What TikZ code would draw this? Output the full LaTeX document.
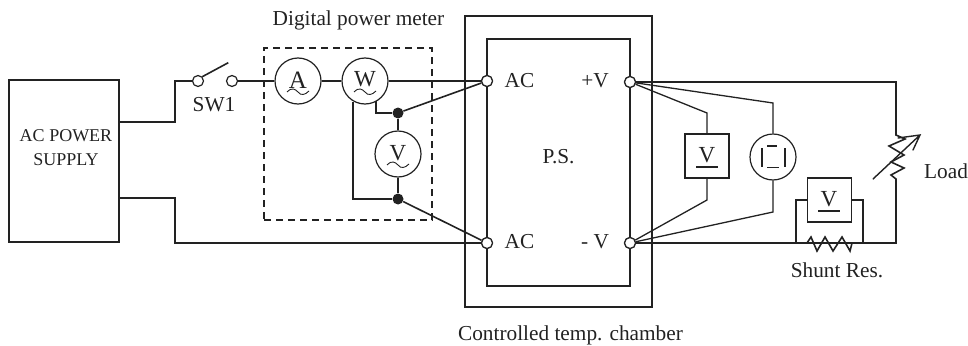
\documentclass[tikz,border=0pt]{standalone}
\usepackage{fontspec}
\setmainfont{Liberation Serif}
\usetikzlibrary{calc,arrows.meta}
\definecolor{ink}{HTML}{222222}
\tikzset{
  wire/.style={draw=ink,line width=1.6pt,line join=miter},
  thinw/.style={draw=ink,line width=1.2pt},
  box/.style={draw=ink,line width=1.4pt,fill=none},
  meter/.style={circle,draw=ink,line width=1.2pt,fill=white,minimum size=46pt,inner sep=0pt},
  vbox/.style={rectangle,draw=ink,line width=1.3pt,fill=white,minimum size=44pt,inner sep=0pt},
  term/.style={circle,draw=ink,line width=1.2pt,fill=white,minimum size=11pt,inner sep=0pt},
  dot/.style={circle,fill=ink,minimum size=11pt,inner sep=0pt},
  lab/.style={text=ink,font=\fontsize{21.3}{24}\selectfont,inner sep=0pt},
  sym/.style={text=ink,font=\fontsize{23}{25}\selectfont,inner sep=0pt},
}
\newcommand{\mywave}[1]{\draw[thinw,line width=.9pt,shift={(#1)}] (-11,11) .. controls (-6,6) and (-3,8) .. (0,11) .. controls (3,15) and (7,14) .. (11,10);}
\begin{document}
\begin{tikzpicture}[x=1pt,y=-1pt]
\useasboundingbox (0,0) rectangle (968,345);
% chamber and supply
\node[box,rectangle,minimum width=110pt,minimum height=162pt,inner sep=0pt] (supply) at (64,161) {};
\node[lab,font=\fontsize{18}{24}\selectfont] (supplytxt) at (66,136) {AC POWER};
\node[lab,font=\fontsize{18}{24}\selectfont] (supplytxt2) at (66,160) {SUPPLY};
\node[box,rectangle,minimum width=187pt,minimum height=291pt,inner sep=0pt] (chamber) at (558.5,161.5) {};
\node[box,rectangle,minimum width=143pt,minimum height=247pt,inner sep=0pt] (ps) at (558.5,162.5) {};
\node[box,rectangle,dash pattern=on 7pt off 5pt,line width=1.5pt,minimum width=168pt,minimum height=172pt,inner sep=0pt] (dpm) at (348,134) {};
% terminals etc
\node[term] (sa) at (198,81) {};
\node[term] (sb) at (232,81) {};
\node[meter] (A) at (298,81) {};
\node[meter] (W) at (365,81) {};
\node[meter] (Vac) at (398,154) {};
\node[dot] (d1) at (398,113) {};
\node[dot] (d2) at (398,199) {};
\node[term] (acp) at (487,81) {};
\node[term] (acn) at (487,243) {};
\node[term] (vp) at (630,82) {};
\node[term] (vn) at (630,243) {};
\node[vbox] (Vdc) at (707,156) {};
\node[meter] (Osc) at (773,157) {};
\node[vbox] (Vsh) at (829.5,200) {};
% left wiring
\coordinate (s1) at (119,122); \coordinate (s2) at (119,198);
\draw[wire] (s1) -- (175,122) -- (175,81) -- (sa);
\draw[wire] (s2) -- (175,198) -- (175,243) -- (acn);
\draw[wire] (sa.north east) -- ++(26,-14);
\draw[wire] (sb) -- (A);
\draw[wire] (A) -- (W);
\draw[wire] (W) -- (acp);
\draw[thinw] (353,102) -- (353,199) -- (d2);
\draw[thinw] (376,101) -- (376,113) -- (d1);
\draw[wire] (d1) -- (Vac);
\draw[wire] (Vac) -- (d2);
\draw[wire] (d1) -- (acp);
\draw[wire] (d2) -- (acn);
% right wiring
\coordinate (lt) at (896,82); \coordinate (lb) at (896,243);
\coordinate (lz1) at (896,135); \coordinate (lz2) at (896,179);
\draw[wire] (vp) -- (lt) -- (lz1) -- (905,139) -- (889,146) -- (904,155) -- (891,162) -- (904,168) -- (891,175) -- (lz2) -- (lb) -- (vn);
\coordinate (la) at (873,179); \coordinate (lc) at (920,135);
\draw[wire,line width=1.4pt,line cap=round] (la) -- (lc) (898,138) -- (lc) -- (913,150);
\draw[wire,line width=1.3pt] (vp) -- (707,113) -- (Vdc);
\draw[wire,line width=1.3pt] (Vdc) -- (707,200) -- (vn);
\draw[wire,line width=1.3pt] (vp) -- (773,103) -- (Osc);
\draw[wire,line width=1.3pt] (Osc) -- (773,212) -- (vn);
\draw[wire,line width=1.3pt] (Vsh.west) -- (796,200) -- (796,243);
\draw[wire,line width=1.3pt] (Vsh.east) -- (863,200) -- (863,243);
\draw[wire] (807,243) -- (811,237) -- (817,251) -- (825,237) -- (833,251) -- (842,237) -- (850,251) -- (852,243);
% redraw terminals on top
\node[term] at (acp) {};
\node[term] at (acn) {};
\node[term] at (vp) {};
\node[term] at (vn) {};
% meter symbols
\node[sym,font=\fontsize{25}{27}\selectfont] at (298,80) {A}; \mywave{298,81}
\node[sym] at (365,79) {W}; \mywave{365,81}
\node[sym] at (398,153) {V}; \mywave{398,154}
\node[sym] at (707,155) {V};
\draw[thinw] (696,167) -- (718,167);
\node[sym] at (829,199.5) {V};
\draw[thinw] (818,211) -- (840,211);
\draw[thinw] (762,148) -- (762,167);
\draw[thinw] (767,146) -- (777,146);
\draw[thinw] (785,148) -- (785,167);
\draw[thinw,line width=.8pt] (767,167) -- (779,167);
% labels
\node[lab] (dpmt) at (358.5,20) {Digital power meter};
\node[lab] (sw) at (214,105) {SW1};
\node[lab] (ac1) at (519.5,81) {AC};
\node[lab] (ac2) at (519.5,242) {AC};
\node[lab] (pv) at (595,81) {+V};
\node[lab] (nv) at (595,242) {- V};
\node[lab] (pst) at (558.5,157) {P.S.};
\node[lab] (ld) at (946,171) {Load};
\node[lab] (sh) at (837,270) {Shunt Res.};
\node[lab] (cc) at (570.5,335) {Controlled temp. chamber};
\end{tikzpicture}
\end{document}
